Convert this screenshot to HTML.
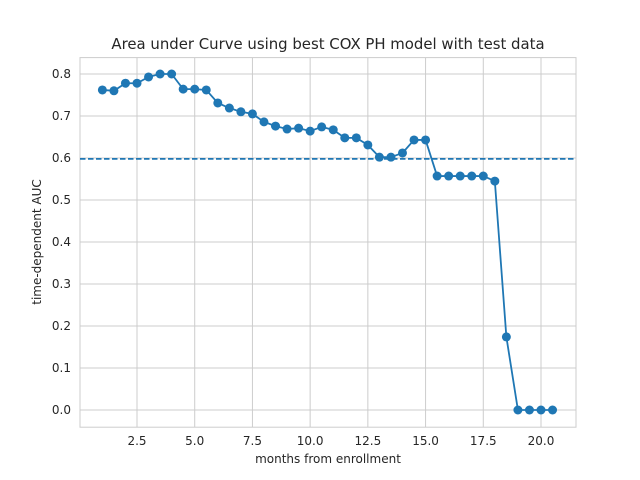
<!DOCTYPE html>
<html><head><meta charset="utf-8"><style>
body{margin:0;background:#fff}
svg{display:block;font-family:"DejaVu Sans","Liberation Sans",sans-serif}
</style></head><body>
<svg id="chart" width="640" height="480" viewBox="0 0 640 480" xmlns="http://www.w3.org/2000/svg">
<rect x="0" y="0" width="640" height="480" fill="#fff"/>
<text x="328" y="49" text-anchor="middle" font-size="14.9" fill="#262626">Area under Curve using best COX PH model with test data</text>
<g id="grid"></g>
<g id="ticks"></g>
<rect x="80" y="57.6" width="496" height="369.6" fill="none" stroke="#ccc" stroke-width="1"/>
<g id="marks"></g>
<text x="328" y="463" text-anchor="middle" font-size="12" fill="#262626">months from enrollment</text>
<text transform="translate(41,242) rotate(-90)" text-anchor="middle" font-size="12" fill="#262626">time-dependent AUC</text>
</svg>
<script>
const months = [1,1.5,2,2.5,3,3.5,4,4.5,5,5.5,6,6.5,7,7.5,8,8.5,9,9.5,10,10.5,11,11.5,12,12.5,13,13.5,14,14.5,15,15.5,16,16.5,17,17.5,18,18.5,19,19.5,20,20.5];
const auc = [0.762,0.760,0.778,0.778,0.793,0.800,0.800,0.764,0.764,0.762,0.731,0.719,0.710,0.705,0.686,0.676,0.669,0.671,0.664,0.674,0.667,0.648,0.648,0.631,0.602,0.602,0.612,0.643,0.643,0.557,0.557,0.557,0.557,0.557,0.545,0.174,0,0,0,0];
const meanAuc = 0.598;
const xTicks = [2.5,5.0,7.5,10.0,12.5,15.0,17.5,20.0];
const yTicks = [0.0,0.1,0.2,0.3,0.4,0.5,0.6,0.7,0.8];
const NS='http://www.w3.org/2000/svg';
const X = v => 137 + (v-2.5)*(404/17.5);
const Y = v => 410 - v*420;
function mk(tag, attrs, parent){const e=document.createElementNS(NS,tag);for(const k in attrs)e.setAttribute(k,attrs[k]);parent.appendChild(e);return e;}
const grid=document.getElementById('grid'), ticks=document.getElementById('ticks'), marks=document.getElementById('marks');
xTicks.forEach(t=>{
  const l=mk('line',{x1:X(t),x2:X(t),y1:57.6,y2:427.2,stroke:'#ccc','stroke-width':1},grid);
  
  
  const tx=mk('text',{x:X(t),y:445,'text-anchor':'middle','font-size':12,fill:'#262626'},ticks);
  tx.textContent=t.toFixed(1);
  
  
});
yTicks.forEach(t=>{
  const l=mk('line',{x1:80,x2:576,y1:Y(t),y2:Y(t),stroke:'#ccc','stroke-width':1},grid);
  
  
  const tx=mk('text',{x:71,y:Y(t)+4,'text-anchor':'end','font-size':12,fill:'#262626'},ticks);
  tx.textContent=t.toFixed(1);
  
  
});
const ml=mk('line',{x1:80,x2:576,y1:Y(meanAuc),y2:Y(meanAuc),stroke:'#1f77b4','stroke-width':1.8,'stroke-dasharray':'5.5,2.5'},marks);


const pl=mk('polyline',{points:months.map((m,i)=>X(m)+','+Y(auc[i])).join(' '),fill:'none',stroke:'#1f77b4','stroke-width':1.8},marks);


months.forEach((m,i)=>{
  const c=mk('circle',{cx:X(m),cy:Y(auc[i]),r:4.5,fill:'#1f77b4'},marks);
  
  
});
</script>
</body></html>
